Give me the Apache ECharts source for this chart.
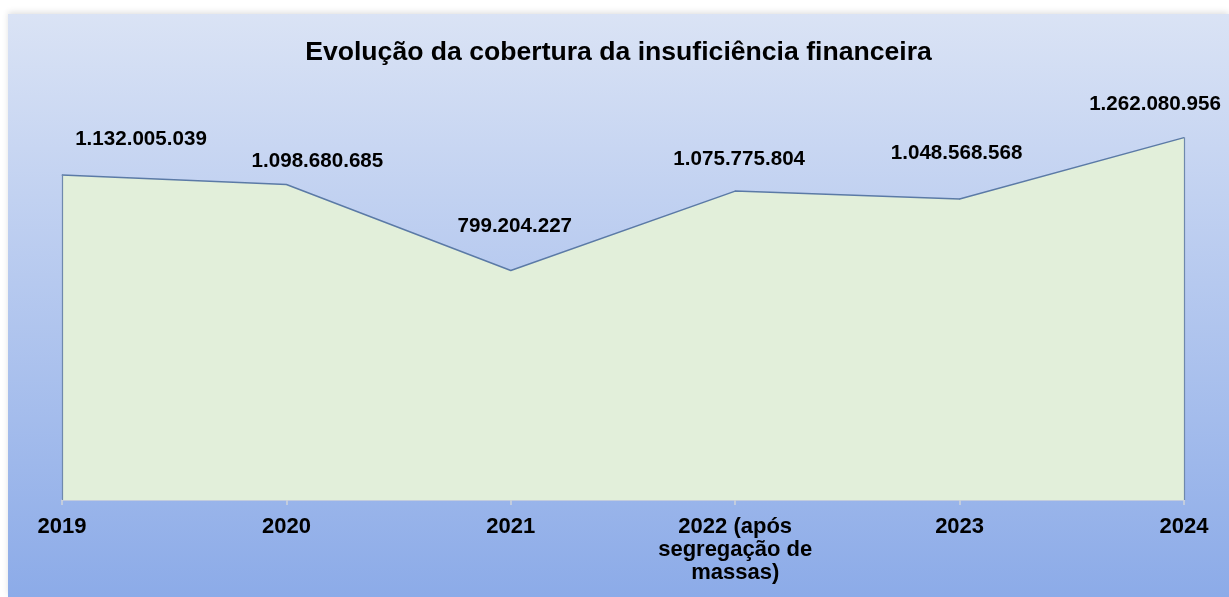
<!DOCTYPE html>
<html>
<head>
<meta charset="utf-8">
<script src="https://cdn.jsdelivr.net/npm/echarts@6/dist/echarts.min.js"></script>
<style>
  html, body { margin: 0; padding: 0; background: #ffffff; }
  #chart {
    position: absolute; left: 8px; top: 14px;
    width: 1221px; height: 583px;
    box-shadow: 0 -2px 6px rgba(0, 0, 0, 0.12);
  }
</style>
</head>
<body>
<div id="chart"></div>
<script>
// Chart data
const categories = ['2019', '2020', '2021', '2022 (após\nsegregação de\nmassas)', '2023', '2024'];
const values = [1132005039, 1098680685, 799204227, 1075775804, 1048568568, 1262080956];
// label nudges so the values sit where the original put them
const labelOffsets = [[79, -20], [31, -7], [4, -28], [4, -16], [-3, -30], [-29, -17]];

function formatValue(v) {
    return String(v).replace(/\B(?=(\d{3})+(?!\d))/g, '.');
}

function initChart() {
    const chartDom = document.getElementById('chart');
    const chart = echarts.init(chartDom);
    const option = {
        animation: false,
        backgroundColor: new echarts.graphic.LinearGradient(0, 0, 0, 1, [
            { offset: 0, color: '#dae3f5' },
            { offset: 1, color: '#8cabe8' }
        ]),
        title: {
            text: 'Evolução da cobertura da insuficiência financeira',
            left: 'center',
            top: 20,
            padding: [5, 0, 5, 10],
            textStyle: {
                fontFamily: 'Liberation Sans',
                fontSize: 26.6,
                fontWeight: 'bold',
                color: '#000000'
            }
        },
        grid: {
            left: 54,
            right: 45,
            top: 84,
            bottom: 97
        },
        xAxis: {
            type: 'category',
            data: categories,
            boundaryGap: false,
            axisLine: { lineStyle: { color: '#cfd3da', width: 1.5 } },
            axisTick: { show: true, length: 5, lineStyle: { color: '#cfd3da', width: 1.5 } },
            axisLabel: {
                color: '#000000',
                fontFamily: 'Liberation Sans',
                fontSize: 22,
                fontWeight: 'bold',
                lineHeight: 23,
                margin: 15
            }
        },
        yAxis: {
            type: 'value',
            min: 0,
            max: 1400000000,
            show: false,
            splitLine: { show: false }
        },
        series: [{
            type: 'line',
            data: values.map((v, i) => ({
                value: v,
                label: { offset: labelOffsets[i] }
            })),
            symbol: 'circle',
            symbolSize: 1,
            itemStyle: { color: '#5b7aa6' },
            lineStyle: { color: '#5b7aa6', width: 1.5 },
            areaStyle: { color: '#e2efda', opacity: 1 },
            label: {
                show: true,
                position: 'top',
                color: '#000000',
                fontFamily: 'Liberation Sans',
                fontSize: 20.6,
                fontWeight: 'bold',
                formatter: p => formatValue(p.value)
            },
            markLine: {
                silent: true,
                symbol: 'none',
                label: { show: false },
                lineStyle: { color: '#6f89ad', width: 1.2, type: 'solid' },
                data: [
                    [{ coord: [categories[0], 0] }, { coord: [categories[0], values[0]] }],
                    [{ coord: [categories[5], 0] }, { coord: [categories[5], values[5]] }]
                ]
            }
        }]
    };
    chart.setOption(option);
    window.addEventListener('resize', chart.resize);
}

document.addEventListener('DOMContentLoaded', initChart);
</script>
</body>
</html>
